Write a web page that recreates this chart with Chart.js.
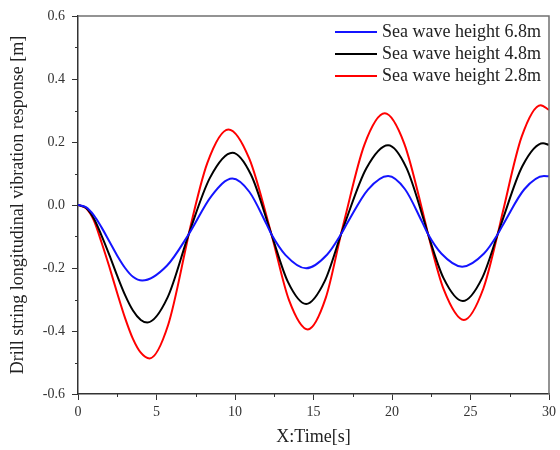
<!DOCTYPE html>
<html>
<head>
<meta charset="utf-8">
<script src="https://cdn.jsdelivr.net/npm/chart.js@4.4.0/dist/chart.umd.min.js"></script>
<style>
    html, body { margin: 0; padding: 0; background: #fff; }
    #caixa { width: 560px; height: 450px; }
</style>
</head>
<body>
<div id="caixa"><canvas id="grafico" width="560" height="450"></canvas></div>
<script>
// valores (tempo em s, resposta em m)
let nomes = ['Sea wave height 6.8m', 'Sea wave height 4.8m', 'Sea wave height 2.8m'];
let cores = ['#1414ff', '#000000', '#ff0000'];

let tempo68 = [0, 0.5, 1, 1.5, 2, 2.5, 3, 3.5, 4.09, 5.66, 7.05, 8.52, 9.83, 10.91, 11.98, 12.32, 13.22, 14.53,
    15.86, 16.75, 17.18, 18.47, 19.75, 20.83, 21.9, 22.3, 23.14, 24.47, 25.86, 26.73, 27.19, 28.43, 29.68, 30];
let onda68 = [0, -0.007, -0.032, -0.071, -0.116, -0.161, -0.2, -0.228, -0.24, -0.193, -0.093, 0.03, 0.084, 0.042, -0.058, -0.093, -0.159, -0.201,
    -0.158, -0.093, -0.055, 0.049, 0.092, 0.05, -0.052, -0.093, -0.154, -0.196, -0.154, -0.093, -0.052, 0.05, 0.092, 0.091];

let tempo48 = [0, 0.5, 1, 1.5, 2, 2.5, 3, 3.5, 4, 4.41, 5.7, 7.05, 8.41, 9.83, 11.02, 12.32, 13.37, 14.53,
    15.73, 16.75, 16.97, 18.36, 19.75, 20.92, 22.09, 22.3, 23.29, 24.51, 25.74, 26.73, 26.99, 28.3, 29.62, 30];
let onda48 = [0, -0.009, -0.042, -0.097, -0.159, -0.225, -0.286, -0.335, -0.365, -0.373, -0.294, -0.093, 0.087, 0.166, 0.096, -0.093, -0.244, -0.314,
    -0.24, -0.093, -0.062, 0.116, 0.19, 0.118, -0.058, -0.093, -0.233, -0.305, -0.232, -0.093, -0.055, 0.123, 0.196, 0.191];

let tempo28 = [0, 0.5, 1, 1.5, 2, 2.5, 3, 3.5, 4, 4.56, 5.74, 6.92, 7.05, 8.24, 9.58, 10.91, 12.32, 13.44, 14.64,
    15.78, 16.75, 16.95, 18.24, 19.54, 20.78, 22.03, 22.3, 23.3, 24.58, 25.82, 26.73, 27.05, 28.26, 29.47, 30];
let onda28 = [0, -0.01, -0.048, -0.119, -0.197, -0.28, -0.359, -0.425, -0.469, -0.487, -0.381, -0.124, -0.093, 0.134, 0.24, 0.147, -0.093, -0.302, -0.395,
    -0.295, -0.093, -0.052, 0.191, 0.291, 0.195, -0.037, -0.093, -0.269, -0.365, -0.265, -0.093, -0.024, 0.217, 0.317, 0.302];

function montarPontos(tempos, valores) {
    let pontos = [];
    for (let i = 0; i < tempos.length; i++) {
        pontos.push({ x: tempos[i], y: valores[i] });
    }
    return pontos;
}

let series = [
    montarPontos(tempo68, onda68),
    montarPontos(tempo48, onda48),
    montarPontos(tempo28, onda28)
];

let fonteSerif = '"Liberation Serif", "Times New Roman", serif';

// ticks menores, moldura e legenda
const extras = {
    id: 'extras',
    afterDraw(chart) {
        const ctx = chart.ctx;
        const area = chart.chartArea;
        const eixoX = chart.scales.x;
        const eixoY = chart.scales.y;
        ctx.save();

        ctx.strokeStyle = '#333';
        ctx.lineWidth = 1;
        for (let v = 2.5; v < 30; v += 5) {
            let px = Math.round(eixoX.getPixelForValue(v)) + 0.5;
            ctx.beginPath();
            ctx.moveTo(px, area.bottom);
            ctx.lineTo(px, area.bottom + 3);
            ctx.stroke();
        }
        for (let v = -0.5; v < 0.6; v += 0.2) {
            let py = Math.round(eixoY.getPixelForValue(v)) + 0.5;
            ctx.beginPath();
            ctx.moveTo(area.left - 3, py);
            ctx.lineTo(area.left, py);
            ctx.stroke();
        }

        ctx.strokeStyle = '#707070';
        ctx.lineWidth = 1.5;
        ctx.beginPath();
        ctx.moveTo(area.left, area.top);
        ctx.lineTo(area.right, area.top);
        ctx.lineTo(area.right, area.bottom);
        ctx.stroke();

        ctx.font = '18px ' + fonteSerif;
        ctx.textBaseline = 'middle';
        ctx.textAlign = 'left';
        for (let i = 0; i < chart.data.datasets.length; i++) {
            let ds = chart.data.datasets[i];
            let y = area.top + 16 + i * 22;
            ctx.strokeStyle = ds.borderColor;
            ctx.lineWidth = 2;
            ctx.beginPath();
            ctx.moveTo(area.right - 214, y);
            ctx.lineTo(area.right - 172, y);
            ctx.stroke();
            ctx.fillStyle = '#222';
            ctx.fillText(ds.label, area.right - 167, y);
        }
        ctx.restore();
    }
};

new Chart(document.getElementById('grafico'), {
    type: 'line',
    data: {
        datasets: series.map(function (pontos, i) {
            return {
                label: nomes[i],
                data: pontos,
                borderColor: cores[i],
                backgroundColor: cores[i],
                borderWidth: 2,
                pointRadius: 0,
                cubicInterpolationMode: 'monotone',
                fill: false
            };
        })
    },
    plugins: [extras],
    options: {
        responsive: false,
        animation: false,
        devicePixelRatio: 1,
        layout: { padding: { top: 16, right: 8, bottom: 0, left: 0 } },
        plugins: {
            legend: { display: false },
            tooltip: { enabled: false }
        },
        scales: {
            x: {
                type: 'linear',
                min: 0,
                max: 30,
                afterFit: function (scale) { scale.height = 56; },
                grid: { drawOnChartArea: false, drawTicks: true, tickLength: 6, color: '#333' },
                border: { display: true, color: '#333', width: 1.5 },
                ticks: {
                    stepSize: 5,
                    padding: 4,
                    color: '#333',
                    font: { family: fonteSerif, size: 14 }
                },
                title: {
                    display: true,
                    text: 'X:Time[s]',
                    color: '#222',
                    font: { family: fonteSerif, size: 18 },
                    padding: { top: 0, bottom: 2 }
                }
            },
            y: {
                min: -0.6,
                max: 0.6,
                afterFit: function (scale) { scale.width = 78; },
                grid: { drawOnChartArea: false, drawTicks: true, tickLength: 6, color: '#333' },
                border: { display: true, color: '#333', width: 1.5 },
                ticks: {
                    stepSize: 0.2,
                    padding: 7,
                    color: '#333',
                    font: { family: fonteSerif, size: 14 },
                    callback: function (v) {
                        if (Math.abs(v) < 1e-9) v = 0;
                        return v.toFixed(1);
                    }
                },
                title: {
                    display: true,
                    text: 'Drill string longitudinal vibration response [m]',
                    color: '#222',
                    font: { family: fonteSerif, size: 18 },
                    padding: { top: 7, bottom: 0 }
                }
            }
        }
    }
});
</script>
</body>
</html>
